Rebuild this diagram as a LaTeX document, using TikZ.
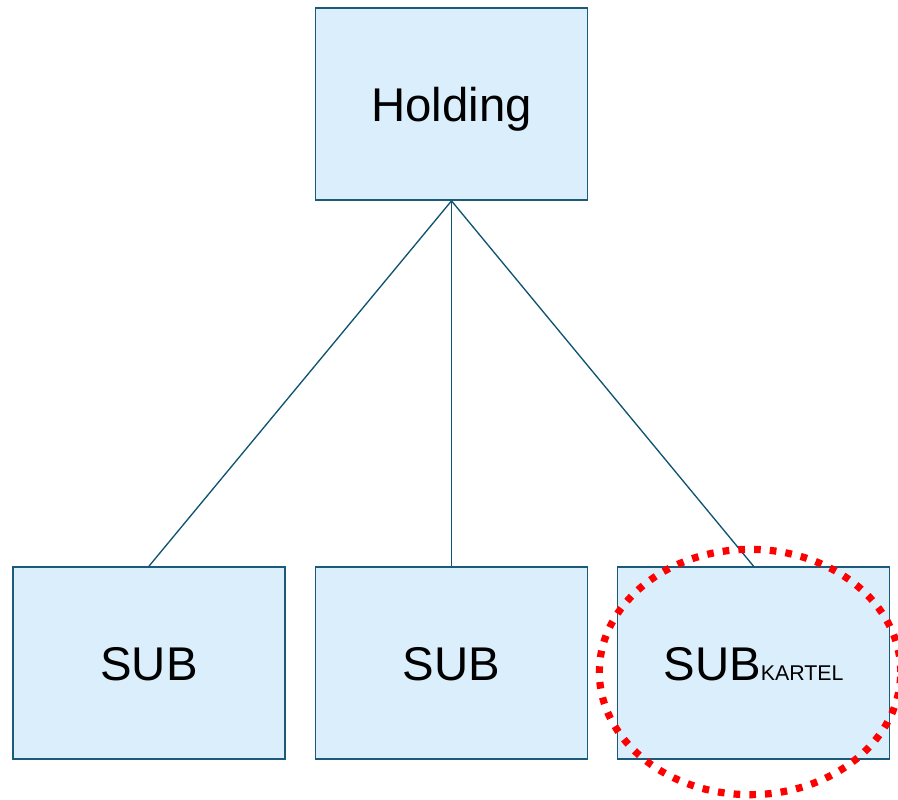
\documentclass[tikz,border=0pt]{standalone}
\usepackage{fontspec}
\setmainfont{Liberation Sans}
\usetikzlibrary{shapes.geometric}
\definecolor{boxfill}{HTML}{DAEEFC}
\definecolor{boxdraw}{HTML}{1B5A78}
\definecolor{linkcol}{HTML}{0E5470}
\begin{document}
\begin{tikzpicture}[x=0.75pt,y=-0.75pt,
  orgbox/.style={draw=boxdraw,fill=boxfill,line width=1.3pt,minimum width=204pt,minimum height=144pt,inner sep=0pt,text height=26pt,text depth=0pt,font=\fontsize{35.5}{38}\selectfont},
  link/.style={draw=linkcol,line width=1pt}]
\useasboundingbox (0,0) rectangle (898,799);
\node[orgbox] (hold) at (451.5,104) {Holding};
\node[orgbox] (s1) at (149,663) {SUB};
\node[orgbox] (s2) at (451.5,663) {SUB};
\node[orgbox] (s3) at (753.5,663) {SUB{\fontsize{16}{18}\selectfont KARTEL}};
\draw[link] (hold.south) -- (s1.north);
\draw[link] (hold.south) -- (s2.north);
\draw[link] (hold.south) -- (s3.north);
\node[draw=red,line width=5.4pt,dash pattern=on 5pt off 6.8pt,ellipse,minimum width=226pt,minimum height=184pt,inner sep=0pt] (ring) at (750,672) {};
\end{tikzpicture}
\end{document}
